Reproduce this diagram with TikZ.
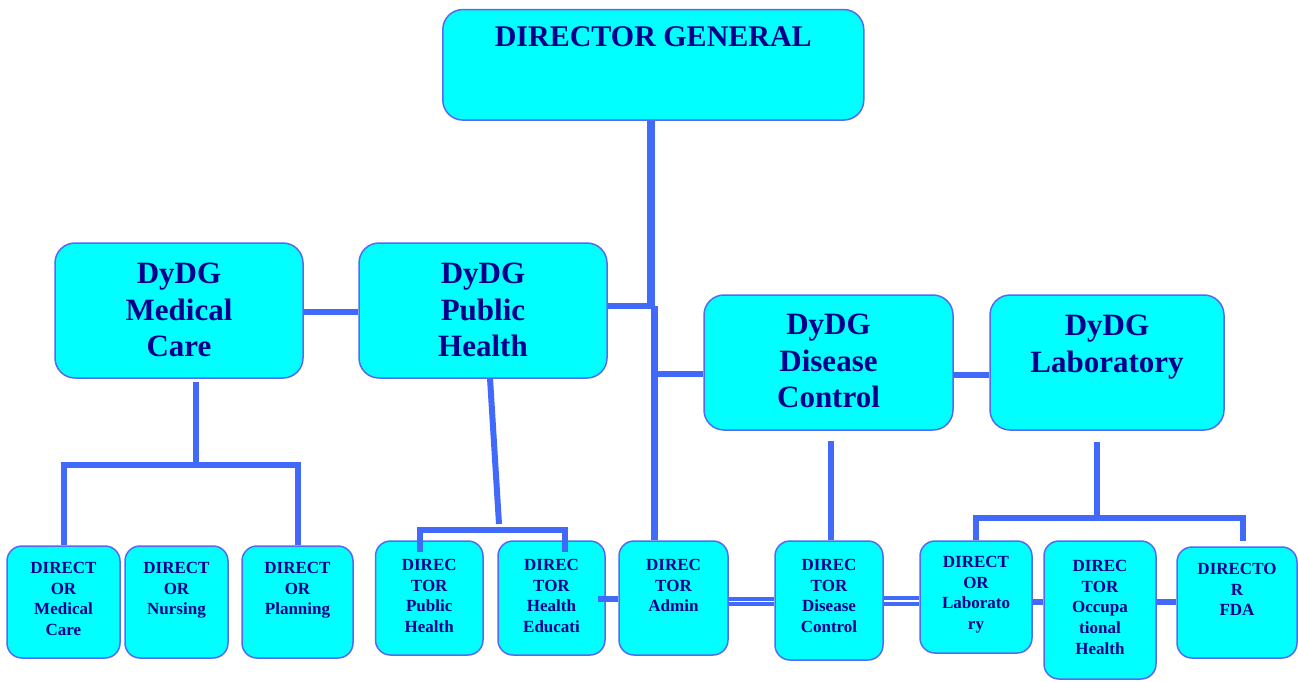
\documentclass[tikz,border=0pt]{standalone}
\usepackage{fontspec}
\setmainfont{Liberation Serif}
\pgfdeclarelayer{bg}
\pgfsetlayers{bg,main}
\definecolor{boxfill}{RGB}{0,255,255}
\definecolor{boxline}{RGB}{85,105,245}
\definecolor{conncol}{RGB}{65,105,250}
\definecolor{navytext}{RGB}{0,0,140}
\begin{document}
\begin{tikzpicture}[x=1pt,y=-1pt,
  box/.style={draw=boxline, fill=boxfill, line width=1.5pt, rounded corners=20pt, inner sep=0pt},
  sbox/.style={box, rounded corners=15pt},
  bigtxt/.style={text=navytext, font=\fontsize{31}{36.5}\selectfont\bfseries, align=center, anchor=north, inner sep=0pt},
  dgtxt/.style={bigtxt, font=\fontsize{30}{36}\selectfont\bfseries},
  smalltxt/.style={text=navytext, font=\fontsize{17}{20.7}\selectfont\bfseries, align=center, anchor=north, inner sep=0pt},
  conn/.style={draw=conncol, line width=6pt},
  dbl/.style={draw=conncol, line width=4.2pt, double=white, double distance=1.5pt}
]
\useasboundingbox (0,0) rectangle (1298,681);

% ---- boxes ----
\node[box, minimum width=421pt, minimum height=110.5pt] (dg) at (653.3,64.8) {};
\node[box, minimum width=248pt, minimum height=135pt] (mc) at (179,310.5) {};
\node[box, minimum width=248pt, minimum height=135pt] (ph) at (483,310.5) {};
\node[box, minimum width=249pt, minimum height=135pt] (dc) at (828.5,362.5) {};
\node[box, minimum width=234pt, minimum height=135pt] (lab) at (1107,362.5) {};

\node[sbox, minimum width=113pt, minimum height=112pt] (dmc) at (63.5,602) {};
\node[sbox, minimum width=103pt, minimum height=112pt] (dnu) at (176.5,602) {};
\node[sbox, minimum width=111pt, minimum height=112pt] (dpl) at (297.5,602) {};
\node[sbox, minimum width=107.5pt, minimum height=114pt] (dph) at (429.25,598) {};
\node[sbox, minimum width=107pt, minimum height=114pt] (dhe) at (551.5,598) {};
\node[sbox, minimum width=109pt, minimum height=114pt] (dad) at (673.5,598) {};
\node[sbox, minimum width=108pt, minimum height=119pt] (ddc) at (829,600.5) {};
\node[sbox, minimum width=112pt, minimum height=112pt] (dlab) at (976,597) {};
\node[sbox, minimum width=112pt, minimum height=138pt] (docc) at (1100,610) {};
\node[sbox, minimum width=120pt, minimum height=111pt] (dfda) at (1237,602.5) {};

% ---- texts ----
\node[dgtxt] (dg-t) at (653.3,26) {DIRECTOR GENERAL};
\node[bigtxt] (mc-t) at (179,263) {DyDG\\Medical\\Care};
\node[bigtxt] (ph-t) at (483,263) {DyDG\\Public\\Health};
\node[bigtxt] (dc-t) at (828.5,314) {DyDG\\Disease\\Control};
\node[bigtxt] (lab-t) at (1107,315) {DyDG\\Laboratory};

\node[smalltxt] (dmc-t) at (63.5,562) {DIRECT\\OR\\Medical\\Care};
\node[smalltxt] (dnu-t) at (176.5,562) {DIRECT\\OR\\Nursing};
\node[smalltxt] (dpl-t) at (297.5,562) {DIRECT\\OR\\Planning};
\node[smalltxt] (dph-t) at (429.25,559) {DIREC\\TOR\\Public\\Health};
\node[smalltxt] (dhe-t) at (551.5,559) {DIREC\\TOR\\Health\\Educati};
\node[smalltxt] (dad-t) at (673.5,559) {DIREC\\TOR\\Admin};
\node[smalltxt] (ddc-t) at (829,559) {DIREC\\TOR\\Disease\\Control};
\node[smalltxt] (dlab-t) at (976,556) {DIRECT\\OR\\Laborato\\ry};
\node[smalltxt] (docc-t) at (1100,560) {DIREC\\TOR\\Occupa\\tional\\Health};
\node[smalltxt] (dfda-t) at (1237,563) {DIRECTO\\R\\FDA};

% ---- junction coordinates ----
\coordinate (jph) at (651,306);
\coordinate (jdc) at (654,373.5);
\coordinate (jmp) at (330,312);
\coordinate (jdl) at (970,374.5);
\coordinate (mct) at (196,382);
\coordinate (mcb) at (196,465);
\coordinate (pht) at (490,378);
\coordinate (phb) at (499,524);
\coordinate (bl) at (420,529.5);
\coordinate (br) at (565,529.5);
\coordinate (blb) at (420,552);
\coordinate (brb) at (565,552);
\coordinate (dct) at (830.5,441);
\coordinate (lbt) at (1097,442);
\coordinate (lbb) at (1097,518);
\coordinate (lbl) at (976,518);
\coordinate (lbr) at (1243,518);
\coordinate (fdt) at (1243,541);
\coordinate (hea) at (598,599);
\coordinate (jad) at (750,601.5);
\coordinate (jdd) at (900,601);
\coordinate (jlo) at (1040,602);

% ---- connectors ----
\begin{pgfonlayer}{bg}
  \draw[conn, line width=8.5pt] (dg.south -| jph) -- ([yshift=-3pt]jph);
  \draw[conn] (ph.east |- jph) -- (jph);
  \draw[conn, line width=7pt] (jdc |- jph) -- (dad.north -| jdc);
  \draw[conn] (jdc) -- (dc.west |- jdc);
  \draw[conn] (mc.east |- jmp) -- (ph.west |- jmp);
  \draw[conn] (dc.east |- jdl) -- (lab.west |- jdl);
  \draw[conn] (mct) -- (mcb);
  \draw[conn] (dmc.north) -- (dmc.north |- mcb) -- (dpl.north |- mcb) -- (dpl.north);
  \draw[conn] (pht) -- (phb);
  \draw[conn] (dct) -- (ddc.north -| dct);
  \draw[conn] (lbt) -- (lbb);
  \draw[conn] (dlab.north -| lbl) -- (lbl) -- (lbr) -- (fdt);
  \draw[dbl] (dad.east |- jad) -- (ddc.west |- jad);
  \draw[dbl] (ddc.east |- jdd) -- (dlab.west |- jdd);
  \draw[conn] (dlab.east |- jlo) -- (docc.west |- jlo);
  \draw[conn] (docc.east |- jlo) -- (dfda.west |- jlo);
\end{pgfonlayer}
\draw[conn] (blb) -- (bl) -- (br) -- (brb);
\draw[conn] (hea) -- (dad.west |- hea);
\end{tikzpicture}
\end{document}
